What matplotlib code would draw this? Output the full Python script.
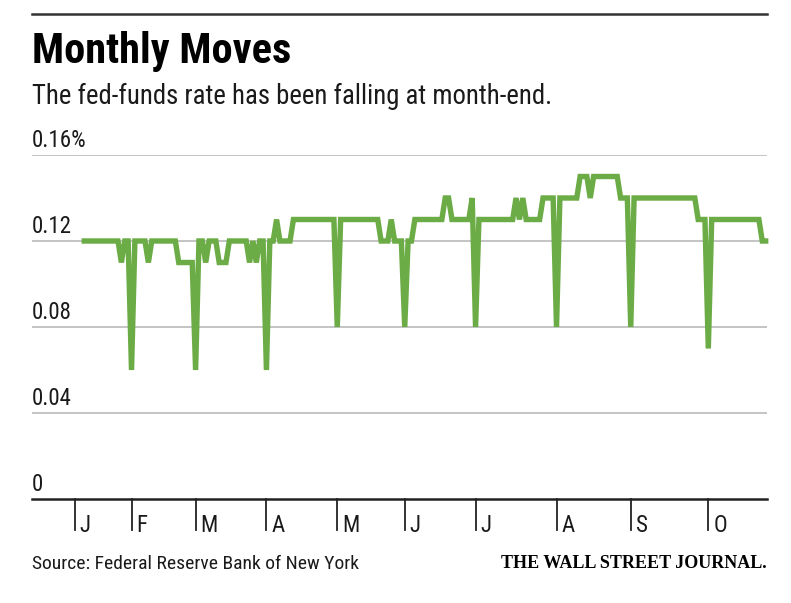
import numpy as np
import matplotlib
matplotlib.use("Agg")
import matplotlib.pyplot as plt
from matplotlib import font_manager

# daily effective fed-funds rate (%), one list per month
jan = [0.12, 0.12, 0.12, 0.12, 0.12, 0.12, 0.12, 0.12, 0.12, 0.12, 0.12, 0.11, 0.12, 0.12, 0.06]
feb = [0.12, 0.12, 0.12, 0.12, 0.11, 0.12, 0.12, 0.12, 0.12, 0.12, 0.12, 0.12, 0.12,
       0.11, 0.11, 0.11, 0.11, 0.11, 0.06]
mar = [0.12, 0.12, 0.11, 0.12, 0.12, 0.12, 0.11, 0.11, 0.11, 0.12, 0.12, 0.12, 0.12, 0.12, 0.12,
       0.11, 0.12, 0.11, 0.12, 0.12, 0.06]
apr = [0.12, 0.12, 0.13, 0.12, 0.12, 0.12, 0.12, 0.13, 0.13, 0.13, 0.13, 0.13, 0.13, 0.13, 0.13,
       0.13, 0.13, 0.13, 0.13, 0.13, 0.08]
may = [0.13, 0.13, 0.13, 0.13, 0.13, 0.13, 0.13, 0.13, 0.13, 0.13, 0.13, 0.13,
       0.12, 0.12, 0.12, 0.13, 0.12, 0.12, 0.12, 0.08]
jun = [0.12, 0.12, 0.13, 0.13, 0.13, 0.13, 0.13, 0.13, 0.13, 0.13, 0.13, 0.14, 0.14,
       0.13, 0.13, 0.13, 0.13, 0.13, 0.13, 0.14, 0.08]
jul = [0.13, 0.13, 0.13, 0.13, 0.13, 0.13, 0.13, 0.13, 0.13, 0.13, 0.13, 0.14, 0.13, 0.14,
       0.13, 0.13, 0.13, 0.13, 0.13, 0.14, 0.14, 0.14, 0.14, 0.08]
aug = [0.14, 0.14, 0.14, 0.14, 0.14, 0.14, 0.15, 0.15, 0.15, 0.14, 0.15, 0.15, 0.15, 0.15,
       0.15, 0.15, 0.15, 0.15, 0.14, 0.14, 0.14, 0.08]
sep = [0.14, 0.14, 0.14, 0.14, 0.14, 0.14, 0.14, 0.14, 0.14, 0.14, 0.14, 0.14, 0.14, 0.14,
       0.14, 0.14, 0.14, 0.14, 0.14, 0.13, 0.13, 0.13, 0.07]
octo = [0.13, 0.13, 0.13, 0.13, 0.13, 0.13, 0.13, 0.13, 0.13, 0.13, 0.13, 0.13, 0.13, 0.13,
        0.13, 0.12, 0.12]

months = [jan, feb, mar, apr, may, jun, jul, aug, sep, octo]
month_labels = ["J", "F", "M", "A", "M", "J", "J", "A", "S", "O"]
y_ticks = [0, 0.04, 0.08, 0.12, 0.16]
y_labels = ["0", "0.04", "0.08", "0.12", "0.16%"]

rates = [v for m in months for v in m]
x = np.arange(len(rates))

# month ticks sit on the last trading day of the previous month
ends = np.cumsum([len(m) for m in months]) - 1
tick_pos = [-2.8] + list(ends[:-1])

names = {f.name for f in font_manager.fontManager.ttflist}
sans = "Liberation Sans"
for cand in ["Roboto Condensed", "Open Sans Condensed", "Noto Sans Condensed",
             "Liberation Sans Narrow", "DejaVu Sans Condensed"]:
    if cand in names:
        sans = cand
        break
plt.rcParams["font.family"] = [sans, "DejaVu Sans"]

GREEN = "#6cac46"
GRID = "#c4c4c4"
TEXT = "#1a1a1a"

fig = plt.figure(figsize=(7.91, 6.03), dpi=100)
ax = fig.add_axes([32 / 791, 1 - 499 / 603, 735 / 791, 344 / 603])

ax.set_xlim(-15.5, 202.4)
ax.set_ylim(0, 0.16)

for v in y_ticks[1:]:
    ax.axhline(v, color=GRID, lw=1.4, zorder=1)
ax.axhline(0, color="#222222", lw=1.8, zorder=3, clip_on=False)

ax.plot(x, rates, color=GREEN, lw=3.9, solid_joinstyle="miter", zorder=4, clip_on=False)

for v, lab in zip(y_ticks, y_labels):
    ax.annotate(lab, xy=(0, v), xycoords=("axes fraction", "data"),
                xytext=(0, 3), textcoords="offset pixels",
                ha="left", va="bottom", fontsize=16.5, color=TEXT)

for p, lab in zip(tick_pos, month_labels):
    ax.plot([p, p], [0, -0.0145], color="#222222", lw=1.3, clip_on=False, zorder=3)
    ax.annotate(lab, xy=(p, 0), xycoords="data",
                xytext=(5, -26), textcoords="offset pixels",
                ha="left", va="center", fontsize=16.5, color=TEXT)

for s in ax.spines.values():
    s.set_visible(False)
ax.set_xticks([])
ax.set_yticks([])

# header and footer
fig.add_artist(plt.Line2D([32 / 791, 767 / 791], [1 - 14 / 603, 1 - 14 / 603],
                          color="#333333", lw=1.8))
fig.text(32 / 791, 1 - 51 / 603, "Monthly Moves", fontsize=30.5, fontweight="bold",
         color="#000000", ha="left", va="center")
fig.text(32 / 791, 1 - 96 / 603, "The fed-funds rate has been falling at month-end.",
         fontsize=19.3, color=TEXT, ha="left", va="center")
fig.text(32 / 791, 1 - 564 / 603, "Source: Federal Reserve Bank of New York",
         fontsize=14, color=TEXT, ha="left", va="center")
fig.text(767 / 791, 1 - 564 / 603, "THE WALL STREET JOURNAL.",
         fontsize=13, color="#000000", ha="right", va="center",
         family=["Liberation Serif", "DejaVu Serif"], fontweight="bold")

fig.savefig("out.png", dpi=100)
